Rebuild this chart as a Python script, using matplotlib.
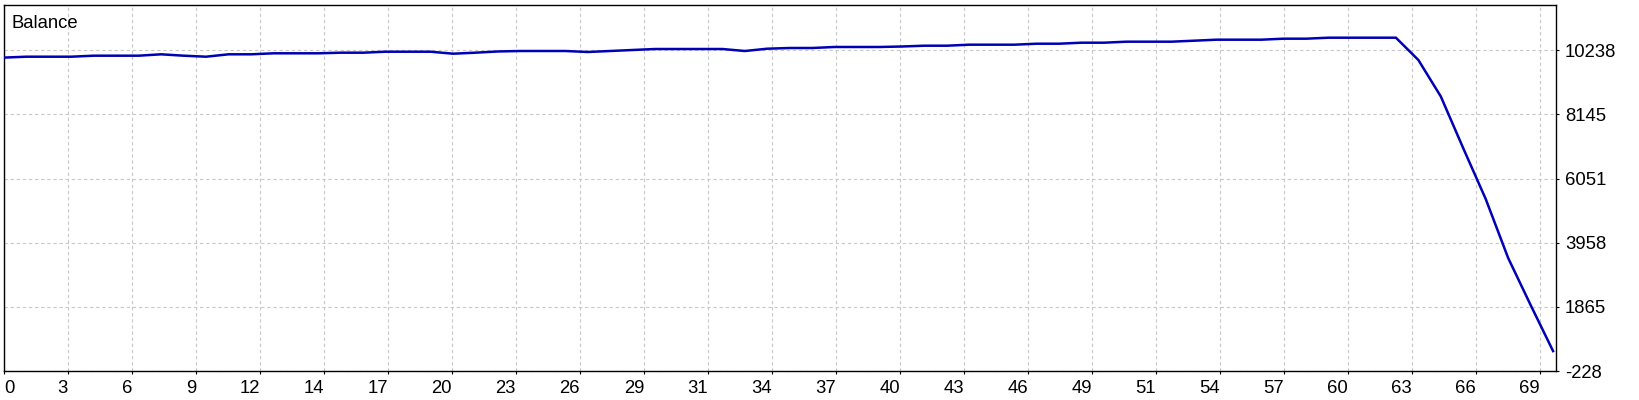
import matplotlib
matplotlib.use("Agg")
import matplotlib.pyplot as plt
import numpy as np

# ---- data ----
trade_no = list(range(70))
balance = [10000, 10029, 10029, 10029, 10062, 10062, 10062, 10107, 10062, 10029,
           10107, 10107, 10140, 10140, 10140, 10160, 10160, 10192, 10192, 10192,
           10127, 10160, 10200, 10215, 10215, 10215, 10183, 10215, 10248, 10280,
           10280, 10280, 10280, 10215, 10290, 10313, 10313, 10346, 10346, 10346,
           10362, 10388, 10388, 10421, 10421, 10421, 10453, 10453, 10486, 10486,
           10519, 10519, 10519, 10551, 10584, 10584, 10584, 10617, 10617, 10649,
           10649, 10649, 10649, 9921, 8730, 7039, 5384, 3458, 1924, 422]
x_tick_labels = ["0", "3", "6", "9", "12", "14", "17", "20", "23", "26", "29", "31",
                 "34", "37", "40", "43", "46", "49", "51", "54", "57", "60", "63",
                 "66", "69"]
y_tick_values = [-228, 1865, 3958, 6051, 8145, 10238]
y_tick_labels = ["-228", "1865", "3958", "6051", "8145", "10238"]
title = "Balance"

FONT = "Liberation Sans"
FS = 13.3

fig = plt.figure(figsize=(16.4, 4.0), dpi=100)
fig.patch.set_facecolor("white")
W, H = 1640, 400
left, right, top, bottom = 4, 1556, 4.7, 371
ax = fig.add_axes([left / W, 1 - bottom / H, (right - left) / W, (bottom - top) / H])

ax.plot(trade_no, balance, color="#0000B4", linewidth=1.8, solid_joinstyle="miter", zorder=3)

x_step = 2.8508
ax.set_xlim(0, 69.13)
ax.set_ylim(-228, 11726)
xticks = [i * x_step for i in range(len(x_tick_labels))]
ax.set_xticks(xticks)
ax.set_xticklabels(x_tick_labels, fontfamily=FONT, fontsize=FS)
for i, lab in enumerate(ax.get_xticklabels()):
    lab.set_horizontalalignment("left" if i == 0 else "right")

ax.set_yticks(y_tick_values)
ax.set_yticklabels(y_tick_labels, fontfamily=FONT, fontsize=FS)
ax.yaxis.tick_right()
ax.tick_params(axis="both", direction="out", length=2.5, width=0.8, color="black", pad=4)

ax.grid(True, color="#c8c8c8", linestyle=(0, (3, 2.5)), linewidth=0.8, zorder=0)
for s in ax.spines.values():
    s.set_color("black")
    s.set_linewidth(1.0)

fig.text(12 / W, 1 - 28 / H, title, fontfamily=FONT, fontsize=FS, va="baseline", ha="left")

fig.savefig("out.png", dpi=100, facecolor="white")
